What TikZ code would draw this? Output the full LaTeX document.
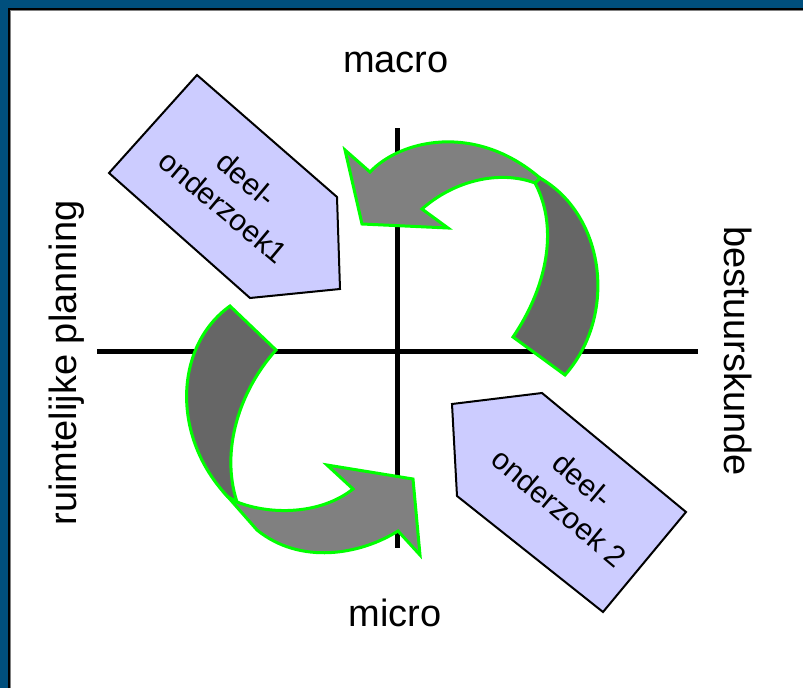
\documentclass[tikz,border=0pt]{standalone}
\usepackage{fontspec}
\setmainfont{Liberation Sans}
\usetikzlibrary{calc,positioning}

\definecolor{rand}{RGB}{0,79,125}
\definecolor{blokkleur}{RGB}{204,204,255}
\definecolor{groen}{RGB}{0,255,0}
\definecolor{licht}{RGB}{128,128,128}
\definecolor{donker}{RGB}{102,102,102}

\begin{document}
\begin{tikzpicture}[x=1pt,y=-1pt,
    as/.style={line width=5pt},
    blok/.style={draw=black,line width=2pt,fill=blokkleur},
    pijl/.style={draw=groen,line width=3pt},
    lbl/.style={inner sep=0pt,anchor=base,font=\fontsize{38}{44}\selectfont},
    deeltekst/.style={inner sep=0pt,align=center,font=\fontsize{30}{36}\selectfont}]
  \useasboundingbox (0,0) rectangle (803,688);
  %frame
  \fill[rand] (0,0) rectangle (803,8);
  \fill[rand] (0,0) rectangle (8,688);
  \draw[line width=2pt] (9,688) -- (9,9) -- (803,9);
  \draw[gray,line width=1pt] (10.5,688) -- (10.5,10.5) -- (803,10.5);
  %axes
  \coordinate (o) at (397,351);
  \coordinate [left =300pt of o] (xl);
  \coordinate [right =301pt of o] (xr);
  \coordinate [above =223pt of o] (yt);
  \coordinate [below =197pt of o] (yb);
  \draw[as] (xl) -- (xr);
  \draw[as] (yt) -- (yb);
  %axis labels
  \node[lbl] (macro) at($(o)+(-1,-279)$) {macro};
  \node[lbl] (micro) at($(o)+(-2,275)$) {micro};
  \node[lbl,rotate=90] (rp) at($(o)+(-321,12)$) {ruimtelijke planning};
  \node[lbl,rotate=-90] (bk) at($(o)+(327,0)$) {bestuurskunde};
  %sub studies
  \draw[blok] (197,75) -- (337,197) -- (340,289) -- (250,298) -- (109,173) -- cycle;
  \draw[blok] (452,404) -- (542,393) -- (686,512) -- (603,612) -- (457,496) -- cycle;
  \node[deeltekst,rotate=-40] (d1) at (235,193) {deel-\\onderzoek1};
  \node[deeltekst,rotate=-40] (d2) at (571,494) {deel-\\onderzoek 2};
  %upper arrow
  \draw[pijl,fill=donker] (540,178) .. controls (605,215) and (618,315) .. (565,375)
    -- (513,337) .. controls (545,290) and (560,230) .. (535,183) -- cycle;
  \draw[pijl,fill=licht] (370,172) .. controls (400,140) and (475,122) .. (540,178)
    -- (535,183) .. controls (500,170) and (455,180) .. (422,209)
    -- (448,228) -- (362,224) -- (345,150) -- cycle;
  %lower arrow
  \draw[pijl,fill=donker] (230,306) -- (276,350) .. controls (240,390) and (220,450) .. (237,502)
    -- (228,497) .. controls (170,436) and (175,345) .. cycle;
  \draw[pijl,fill=licht] (228,497) -- (257,530) .. controls (300,565) and (360,555) .. (398,531)
    -- (420,555) -- (413,479) -- (327,465) -- (353,489)
    .. controls (320,515) and (270,515) .. (237,502) -- cycle;
\end{tikzpicture}
\end{document}
